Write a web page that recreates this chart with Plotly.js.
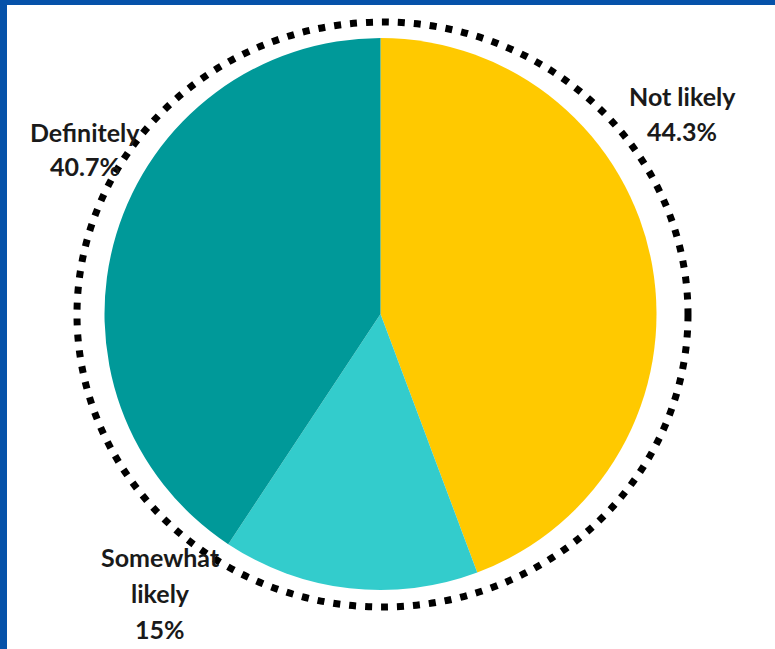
<!DOCTYPE html>
<html>
<head>
<meta charset="utf-8">
<script src="https://cdn.plot.ly/plotly-3.0.1.min.js"></script>
<style>html,body{margin:0;padding:0;background:#fff;}#chart{width:775px;height:649px;}</style>
</head>
<body>
<div id="chart"></div>
<script>
// Data
const labels = ["Not likely", "Somewhat likely", "Definitely"];
const values = [44.3, 15, 40.7];
const valueLabels = ["44.3%", "15%", "40.7%"];
const colors = ["#FFC900", "#33CCCC", "#009999"];

const W = 775, H = 649;
const px = x => x / W;
const py = y => (H - y) / H;

// label line layout (position, line breaks)
const labelLayout = [
  { x: 682, y: 96, lines: ["Not likely"], gap: 35 },
  { x: 160, y: 557, lines: ["Somewhat", "likely"], gap: 36 },
  { x: 85, y: 132, lines: ["Definitely"], gap: 34 }
];

const annotations = [];
labels.forEach((lab, i) => {
  const L = labelLayout[i];
  const lines = L.lines.concat([valueLabels[i]]);
  lines.forEach((t, k) => {
    annotations.push({
      text: t, xref: "paper", yref: "paper",
      x: px(L.x), y: py(L.y + k * L.gap),
      xanchor: "center", yanchor: "middle", showarrow: false,
      font: { family: "Lato, 'Open Sans', sans-serif", size: 25, color: "#1a1a1a", weight: 700 }
    });
  });
});

const cx = 380.5, cy = 314, r = 276;

const trace = {
  type: "pie",
  labels: labels,
  values: values,
  sort: false,
  direction: "clockwise",
  rotation: 0,
  marker: { colors: colors, line: { width: 0 } },
  textinfo: "none",
  hoverinfo: "skip",
  showlegend: false,
  domain: { x: [px(cx - r), px(cx + r)], y: [py(cy + r), py(cy - r)] }
};

const layout = {
  width: W, height: H,
  margin: { l: 0, r: 0, t: 0, b: 0 },
  paper_bgcolor: "#ffffff",
  showlegend: false,
  annotations: annotations,
  shapes: [
    { type: "circle", xref: "paper", yref: "paper",
      x0: px(77), x1: px(688), y0: py(607), y1: py(22),
      line: { color: "#000000", width: 7, dash: "7px,9px" }, layer: "above" },
    { type: "rect", xref: "paper", yref: "paper", x0: 0, x1: px(7), y0: 0, y1: 1,
      fillcolor: "#0652A9", line: { width: 0 } },
    { type: "rect", xref: "paper", yref: "paper", x0: 0, x1: 1, y0: py(5), y1: 1,
      fillcolor: "#0652A9", line: { width: 0 } }
  ]
};

Plotly.newPlot("chart", [trace], layout, { displayModeBar: false, staticPlot: true });
</script>
</body>
</html>
